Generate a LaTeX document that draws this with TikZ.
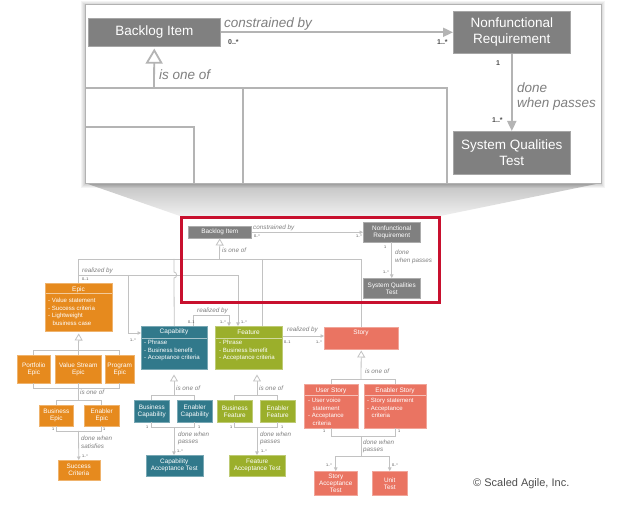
\documentclass[tikz,border=0pt]{standalone}
\usepackage{fontspec}
\setmainfont{Liberation Sans}
\usetikzlibrary{arrows.meta}
\definecolor{cOr}{HTML}{E68A1E}
\definecolor{cTe}{HTML}{31798B}
\definecolor{cGr}{HTML}{9BAF2B}
\definecolor{cSa}{HTML}{EA7462}
\definecolor{cGy}{HTML}{808080}
\definecolor{cLn}{HTML}{C2C2C2}
\definecolor{cBl}{HTML}{B4B4B4}
\definecolor{cLab}{HTML}{7F7F7F}
\definecolor{cMul}{HTML}{4D4D4D}
\definecolor{cRed}{HTML}{C8102E}
\tikzset{
  sbox/.style={fill=#1, draw=#1!65!white, line width=0.5pt, inner sep=0pt, anchor=north west, text=white, font=\fontsize{6.4}{7}\selectfont, align=center},
  bbox/.style={fill=cGy, draw=cGy!70!white, line width=0.6pt, inner sep=0pt, anchor=north west, text=white, font=\fontsize{13.5}{16}\selectfont, align=center},
  hdr/.style={text=white, inner sep=0pt, font=\fontsize{6.5}{7.5}\selectfont},
  bodytxt/.style={text=white, inner sep=0pt, anchor=north west, align=left, font=\fontsize{6.1}{7.6}\selectfont},
  sepline/.style={draw=white, opacity=0.55, line width=0.5pt},
  sl/.style={draw=cLn, line width=0.8pt},
  sarr/.style={-{Triangle[length=3.5pt,width=3.5pt]}},
  sgen/.style={-{Triangle[length=7pt,width=8pt,fill=white]}},
  bl/.style={draw=cBl, line width=1.8pt},
  barr/.style={-{Triangle[length=10pt,width=9pt]}},
  bgen/.style={-{Triangle[length=15pt,width=17pt,fill=white]}},
  lab/.style={text=cLab, inner sep=0pt, anchor=base west, font=\fontsize{6.3}{7.4}\selectfont\itshape},
  mul/.style={text=cMul, inner sep=0pt, anchor=base west, font=\fontsize{3.8}{4}\selectfont},
  blab/.style={text=cLab, inner sep=0pt, anchor=base west, font=\fontsize{13.5}{15}\selectfont\itshape},
  bmul/.style={text=cMul, inner sep=0pt, anchor=base west, font=\fontsize{7}{8}\selectfont\bfseries},
}
\begin{document}
\begin{tikzpicture}[x=1pt,y=-1pt]
\useasboundingbox (0,0) rectangle (630,510);
\fill[white] (0,0) rectangle (630,510);

% ---------- magnifier funnel and panel ----------
\shade[top color=black!24, bottom color=black!6] (85,183) -- (601,183) -- (440,216) -- (180,216) -- cycle;
\foreach \i in {1,2,3,4} {\fill[black,opacity=0.045] (85-\i,4-\i+1.5) rectangle (601+\i,183+\i+1.5);}
\fill[white] (85,4) rectangle (601,183);

\node[bbox, minimum width=132pt, minimum height=28pt] (BI) at (88,18) {Backlog Item};
\node[bbox, minimum width=117pt, minimum height=42pt] (NFR) at (453,11) {Nonfunctional\\Requirement};
\node[bbox, minimum width=117pt, minimum height=43pt] (SQT) at (453,131) {System Qualities\\Test};

\coordinate (bbj) at (154,88);
\draw[bl,bgen,shorten >=2pt] (bbj) -- (BI.south);
\coordinate (pL1) at (85,88); \coordinate (pR1) at (447,88); \coordinate (pB1) at (447,183);
\draw[bl] (pL1) -- (pR1) -- (pB1);
\coordinate (pm1) at (243,88); \coordinate (pm2) at (243,183);
\draw[bl] (pm1) -- (pm2);
\coordinate (pL2) at (85,127); \coordinate (pc1) at (194,127); \coordinate (pc2) at (194,183);
\draw[bl] (pL2) -- (pc1) -- (pc2);
\draw[bl,barr] (BI) -- (NFR);
\draw[bl,barr] (NFR) -- (SQT);
\draw[draw=black!30, line width=0.8pt] (85,4) rectangle (601,183);

\node[blab] (Bcons) at (224,28) {constrained by};
\node[bmul] (Bm1) at (228,45) {0..*};
\node[bmul] (Bm2) at (437,45) {1..*};
\node[bmul] (Bm3) at (496,66) {1};
\node[blab] (Bdone1) at (517,93) {done};
\node[blab] (Bdone2) at (517,108) {when passes};
\node[bmul] (Bm4) at (492,123) {1..*};
\node[blab] (Bis) at (159,80) {is one of};

% ---------- small diagram: boxes ----------
\node[sbox=cGy, minimum width=63pt, minimum height=12pt] (bi) at (188,226) {Backlog Item};
\node[sbox=cGy, minimum width=57pt, minimum height=20pt] (nfr) at (363,222) {Nonfunctional\\Requirement};
\node[sbox=cGy, minimum width=57pt, minimum height=20pt] (sqt) at (363,278) {System Qualities\\Test};

\node[sbox=cOr, minimum width=67pt, minimum height=48pt] (epic) at (45,283) {};
\node[hdr] (epich) at (78.5,289.5) {Epic};
\draw[sepline] (45.5,293) -- (111.5,293);
\node[bodytxt] (epicb) at (48,298) {- Value statement\\- Success criteria\\- Lightweight\\\hspace*{4.5pt}business case};
\node[sbox=cOr, minimum width=33pt, minimum height=28pt] (pepic) at (17,355) {Portfolio\\Epic};
\node[sbox=cOr, minimum width=46pt, minimum height=28pt] (vsepic) at (55,355) {Value Stream\\Epic};
\node[sbox=cOr, minimum width=29pt, minimum height=28pt] (prepic) at (105,355) {Program\\Epic};
\node[sbox=cOr, minimum width=34pt, minimum height=21pt] (bepic) at (39,405) {Business\\Epic};
\node[sbox=cOr, minimum width=35pt, minimum height=21pt] (eepic) at (84,405) {Enabler\\Epic};
\node[sbox=cOr, minimum width=42pt, minimum height=20pt] (sc) at (57.5,460) {Success\\Criteria};

\node[sbox=cTe, minimum width=66pt, minimum height=43pt] (cap) at (141,326) {};
\node[hdr] (caph) at (174,332) {Capability};
\draw[sepline] (141.5,338) -- (206.5,338);
\node[bodytxt] (capb) at (144,340) {- Phrase\\- Business benefit\\- Acceptance criteria};
\node[sbox=cTe, minimum width=35pt, minimum height=22pt] (bcap) at (134,400) {Business\\Capability};
\node[sbox=cTe, minimum width=35pt, minimum height=22pt] (ecap) at (177,400) {Enabler\\Capability};
\node[sbox=cTe, minimum width=57pt, minimum height=21pt] (cat) at (145.5,455) {Capability\\Acceptance Test};

\node[sbox=cGr, minimum width=67pt, minimum height=43pt] (feat) at (215,326) {};
\node[hdr] (feath) at (248.5,332.5) {Feature};
\draw[sepline] (215.5,338) -- (281.5,338);
\node[bodytxt] (featb) at (219,340) {- Phrase\\- Business benefit\\- Acceptance criteria};
\node[sbox=cGr, minimum width=35pt, minimum height=22pt] (bfeat) at (217,400) {Business\\Feature};
\node[sbox=cGr, minimum width=35pt, minimum height=22pt] (efeat) at (260,400) {Enabler\\Feature};
\node[sbox=cGr, minimum width=56pt, minimum height=21pt] (fat) at (229,455) {Feature\\Acceptance Test};

\node[sbox=cSa, minimum width=74pt, minimum height=22pt] (story) at (324,327) {};
\node[hdr] (storyh) at (361,333) {Story};
\node[sbox=cSa, minimum width=54pt, minimum height=44pt] (ustory) at (304,384) {};
\node[hdr] (ustoryh) at (331,390.5) {User Story};
\draw[sepline] (304.5,395) -- (357.5,395);
\node[bodytxt] (ustoryb) at (308,398) {- User voice\\\hspace*{4.5pt}statement\\- Acceptance\\\hspace*{4.5pt}criteria};
\node[sbox=cSa, minimum width=62pt, minimum height=44pt] (estory) at (364,384) {};
\node[hdr] (estoryh) at (395,390.5) {Enabler Story};
\draw[sepline] (364.5,395) -- (425.5,395);
\node[bodytxt] (estoryb) at (367,398) {- Story statement\\- Acceptance\\\hspace*{4.5pt}criteria};
\node[sbox=cSa, minimum width=43pt, minimum height=24pt] (sat) at (314,471) {Story\\Acceptance\\Test};
\node[sbox=cSa, minimum width=35pt, minimum height=24pt] (ut) at (372,471) {Unit\\Test};

% ---------- small diagram: connectors ----------
\draw[sl,sarr] (bi) -- (nfr);
\draw[sl,sarr] (nfr) -- (sqt);
\coordinate (bij) at (219.5,259);
\draw[sl,sgen] (bij) -- (bi.south);
\draw[sl] (epic.north) -- (epic.north |- bij) -- (story.north |- bij) -- (story.north);
\coordinate (fv) at (262,259);
\draw[sl] (fv) -- (fv |- feat.north);
\draw[sl] (cap.north) -- (174,278) .. controls (177.5,278) and (177.5,272) .. (174,272) -- (174,259);

\coordinate (rj) at (78.5,275);
\coordinate (rf) at (238,275);
\draw[sl,sarr] (rj) -- (rf) -- (rf |- feat.north);
\coordinate (rc) at (128,275);
\coordinate (rc2) at (128,333);
\draw[sl,sarr] (rc) -- (rc2) -- (rc2 -| cap.west);
\coordinate (cf1) at (193,315);
\coordinate (cf2) at (229,315);
\draw[sl,sarr] (cf1 |- cap.north) -- (cf1) -- (cf2) -- (cf2 |- feat.north);
\coordinate (fs) at (0,336);
\draw[sl,sarr] (fs -| feat.east) -- (fs -| story.west);

% epic tree
\coordinate (ej) at (78.5,350);
\draw[sl,sgen,shorten >=2pt] (ej) -- (epic.south);
\draw[sl] (pepic.north) -- (pepic.north |- ej) -- (prepic.north |- ej) -- (prepic.north);
\draw[sl] (vsepic.north) -- (vsepic.north |- ej);
\coordinate (ej2) at (78.5,388);
\draw[sl] (pepic.south) -- (pepic.south |- ej2) -- (prepic.south |- ej2) -- (prepic.south);
\draw[sl] (vsepic.south) -- (vsepic.south |- ej2);
\coordinate (ej3) at (78.5,400);
\draw[sl] (ej2) -- (ej3);
\draw[sl] (bepic.north) -- (bepic.north |- ej3) -- (eepic.north |- ej3) -- (eepic.north);
\coordinate (ej4) at (78.5,431);
\draw[sl] (bepic.south) -- (bepic.south |- ej4) -- (eepic.south |- ej4) -- (eepic.south);
\draw[sl,sarr] (ej4) -- (sc.north);

% capability tree
\coordinate (cj) at (174,395);
\draw[sl,sgen,shorten >=5pt] (cj) -- (cj |- cap.south);
\draw[sl] (bcap.north) -- (bcap.north |- cj) -- (ecap.north |- cj) -- (ecap.north);
\coordinate (cj2) at (174,427);
\draw[sl] (bcap.south) -- (bcap.south |- cj2) -- (ecap.south |- cj2) -- (ecap.south);
\draw[sl,sarr] (cj2) -- (cj2 |- cat.north);

% feature tree
\coordinate (fj) at (257,395);
\draw[sl,sgen,shorten >=5pt] (fj) -- (fj |- feat.south);
\draw[sl] (bfeat.north) -- (bfeat.north |- fj) -- (efeat.north |- fj) -- (efeat.north);
\coordinate (fj2) at (257,427);
\draw[sl] (bfeat.south) -- (bfeat.south |- fj2) -- (efeat.south |- fj2) -- (efeat.south);
\draw[sl,sarr] (fj2) -- (fj2 |- fat.north);

% story tree
\coordinate (sj) at (361,379);
\draw[sl,sgen,shorten >=1pt] (sj) -- (story.south);
\draw[sl] (ustory.north) -- (ustory.north |- sj) -- (estory.north |- sj) -- (estory.north);
\coordinate (sj2) at (361,436);
\draw[sl] (ustory.south) -- (ustory.south |- sj2) -- (estory.south |- sj2) -- (estory.south);
\coordinate (sj3) at (361,456);
\draw[sl] (sj2) -- (sj3);
\draw[sl,sarr] (sj3) -| (sat.north);
\draw[sl,sarr] (sj3) -| (ut.north);

% ---------- small diagram: labels ----------
\node[lab] (scons) at (253,230) {constrained by};
\node[mul] (sm1) at (254,238) {0..*};
\node[mul] (sm2) at (356,238) {1..*};
\node[mul] (sm3) at (384,249) {1};
\node[lab] (sdone1) at (395,255) {done};
\node[lab] (sdone2) at (395,263) {when passes};
\node[mul] (sm4) at (383,274) {1..*};
\node[lab] (sis) at (222,253) {is one of};

\node[lab] (rz1) at (82,273) {realized by};
\node[mul] (rm1) at (82,281) {0..1};
\node[mul] (rm2) at (130,342) {1..*};
\node[mul] (rm3) at (241,324) {1..*};
\node[lab] (rz2) at (197,313) {realized by};
\node[mul] (rm4) at (188,324) {0..1};
\node[mul] (rm5) at (220,324) {1..*};
\node[lab] (rz3) at (287,332) {realized by};
\node[mul] (rm6) at (284,344) {0..1};
\node[mul] (rm7) at (316,344) {1..*};

\node[lab] (eis) at (80,395) {is one of};
\node[mul] (em1) at (52,431) {1};
\node[mul] (em2) at (103,431) {1};
\node[lab] (ed1) at (81,441) {done when};
\node[lab] (ed2) at (81,448.5) {satisfies};
\node[mul] (em3) at (82,458) {1..*};

\node[lab] (cis) at (176,391) {is one of};
\node[mul] (cm1) at (146,429) {1};
\node[mul] (cm2) at (198,429) {1};
\node[lab] (cd1) at (178,436.5) {done when};
\node[lab] (cd2) at (178,443.5) {passes};
\node[mul] (cm3) at (177,453) {1..*};

\node[lab] (fis) at (259,391) {is one of};
\node[mul] (fm1) at (230,429) {1};
\node[mul] (fm2) at (281,429) {1};
\node[lab] (fd1) at (260,436.5) {done when};
\node[lab] (fd2) at (260,443.5) {passes};
\node[mul] (fm3) at (261,453) {1..*};

\node[lab] (sis2) at (365,374) {is one of};
\node[mul] (stm1) at (323,433) {1};
\node[mul] (stm2) at (398,433) {1};
\node[lab] (std1) at (363,445) {done when};
\node[lab] (std2) at (363,452) {passes};
\node[mul] (stm3) at (326,467) {1..*};
\node[mul] (stm4) at (392,467) {0..*};

\node[text=cMul, inner sep=0pt, anchor=base west, font=\fontsize{11}{12}\selectfont] (copy) at (473,487) {© Scaled Agile, Inc.};

% ---------- highlight frame ----------
\draw[cRed, line width=3pt] (181,218) rectangle (439,303);
\end{tikzpicture}
\end{document}
